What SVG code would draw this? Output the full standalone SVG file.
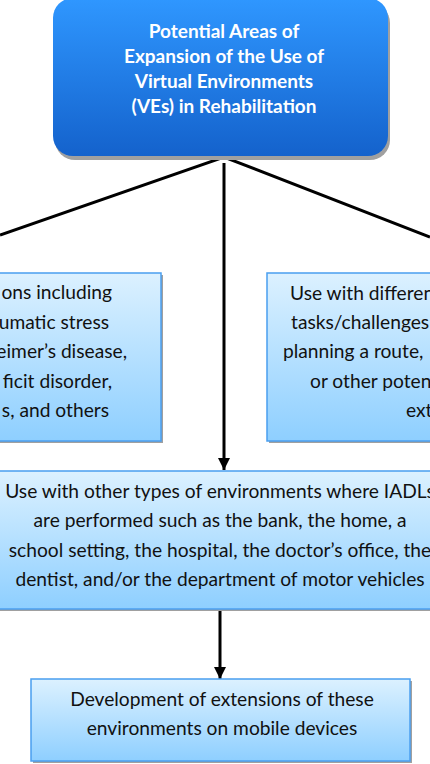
<svg xmlns="http://www.w3.org/2000/svg" width="430" height="764" viewBox="0 0 430 764">
<defs>
<linearGradient id="gTop" x1="0" y1="0" x2="0" y2="1">
<stop offset="0" stop-color="#2f97ff"/>
<stop offset="1" stop-color="#1462cc"/>
</linearGradient>
<linearGradient id="gBox" x1="0" y1="0" x2="0" y2="1">
<stop offset="0" stop-color="#dcf1ff"/>
<stop offset="1" stop-color="#8ecfff"/>
</linearGradient>
<marker id="arr" viewBox="0 0 12 12" markerWidth="12" markerHeight="12" refX="12" refY="6" orient="auto" markerUnits="userSpaceOnUse">
<path d="M0,0 L12,6 L0,12 Z" fill="#000"/>
</marker>
</defs>
<style>
.shadow{fill:#a0a0a0;}
.box{fill:url(#gBox);stroke:#4a9ff0;stroke-width:1.5;}
.t{font-family:Lato,"Open Sans","Liberation Sans",sans-serif;font-size:19.2px;fill:#111;}
.title{font-family:Lato,"Open Sans","Liberation Sans",sans-serif;font-size:19px;font-weight:bold;fill:#fff;text-anchor:middle;}
.c{text-anchor:middle;}
.e{text-anchor:end;}
.conn{stroke:#000;stroke-width:3;fill:none;}
</style>
<g id="connectors">
<polyline class="conn" points="0,235 224,157 430,237"/>
<line class="conn" x1="224" y1="163" x2="224" y2="470" marker-end="url(#arr)"/>
<line class="conn" x1="220" y1="610" x2="220" y2="679" marker-end="url(#arr)"/>
</g>
<g id="top">
<rect class="shadow" x="55" y="3" width="335" height="157" rx="20"/>
<rect x="53" y="-2" width="335" height="158" rx="20" fill="url(#gTop)"/>
<text class="title" x="224" y="38">Potential Areas of</text>
<text class="title" x="224" y="63">Expansion of the Use of</text>
<text class="title" x="224" y="88">Virtual Environments</text>
<text class="title" x="224" y="113">(VEs) in Rehabilitation</text>
</g>
<g id="left">
<rect class="shadow" x="-8" y="275" width="171" height="168"/>
<rect class="box" x="-10" y="273" width="171" height="168"/>
<text class="t e" x="112" y="299">ons including</text>
<text class="t e" x="109" y="329">umatic stress</text>
<text class="t e" x="127" y="358">eimer’s disease,</text>
<text class="t e" x="112" y="388">ficit disorder,</text>
<text class="t e" x="109" y="417">s, and others</text>
</g>
<g id="right">
<rect class="shadow" x="269" y="275" width="171" height="168"/>
<rect class="box" x="267" y="273" width="171" height="168"/>
<text class="t" x="290" y="300">Use with differen</text>
<text class="t" x="291" y="329">tasks/challenges</text>
<text class="t" x="283" y="358">planning a route,</text>
<text class="t" x="310" y="388">or other poten</text>
<text class="t" x="406" y="417">ext</text>
</g>
<g id="middle">
<rect class="shadow" x="-8" y="473" width="446" height="138"/>
<rect class="box" x="-10" y="471" width="446" height="138"/>
<text class="t c" x="220" y="498">Use with other types of environments where IADLs</text>
<text class="t c" x="220" y="527">are performed such as the bank, the home, a</text>
<text class="t c" x="220" y="557">school setting, the hospital, the doctor’s office, the</text>
<text class="t c" x="220" y="586">dentist, and/or the department of motor vehicles</text>
</g>
<g id="bottom">
<rect class="shadow" x="33" y="681" width="379" height="82"/>
<rect class="box" x="31" y="679" width="379" height="82"/>
<text class="t c" x="222" y="706">Development of extensions of these</text>
<text class="t c" x="222" y="735">environments on mobile devices</text>
</g>
</svg>
